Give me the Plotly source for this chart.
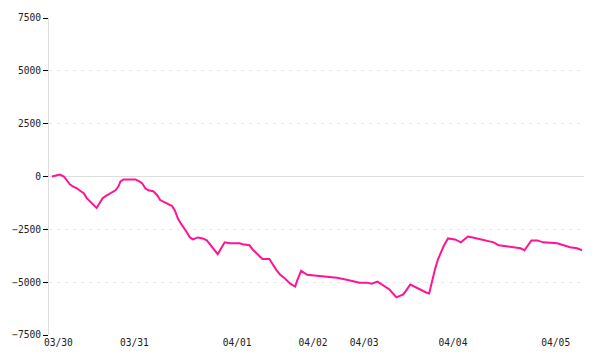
import plotly.graph_objects as go

# trading-time index (compressed axis) and cumulative value
t = [0, 6, 8, 12, 15, 18, 21, 25, 29, 32, 35, 38, 42, 45, 48, 51, 54, 57, 61, 64, 67, 69, 72,
     84, 88, 91, 94, 97, 102, 106, 109, 113, 117, 121, 124, 127, 130, 133, 136, 139, 142, 147,
     152, 156, 159, 162, 167, 171, 174, 179, 189, 192, 199, 202, 206, 210, 212, 219, 222, 226,
     230, 235, 240, 245, 247, 251, 257, 267, 277, 287, 297, 304, 310, 317, 322, 328, 333, 340,
     347, 354, 361, 367, 372, 377, 380, 383, 386, 389, 392, 395, 399, 406, 412, 419, 424, 432,
     439, 445, 450, 459, 467, 472, 476, 480, 483, 489, 495, 509, 515, 522, 529, 534]
v = [0, 93, 93, 0, -186, -372, -465, -558, -698, -791, -1023, -1163, -1302, -1488, -1256, -1023,
     -930, -837, -744, -651, -465, -233, -140, -140, -233, -326, -558, -651, -698, -884, -1116,
     -1209, -1302, -1395, -1628, -2000, -2232, -2418, -2651, -2883, -2976, -2883, -2930, -3023,
     -3209, -3348, -3674, -3348, -3116, -3162, -3162, -3209, -3255, -3441, -3627, -3813, -3906,
     -3906, -4139, -4418, -4650, -4836, -5069, -5208, -4929, -4464, -4650, -4697, -4743, -4790,
     -4883, -4976, -5022, -5022, -5069, -4976, -5115, -5348, -5720, -5580, -5115, -5255, -5394,
     -5487, -5534, -4883, -4371, -3906, -3581, -3255, -2930, -2976, -3116, -2837, -2883, -2976,
     -3069, -3116, -3255, -3302, -3348, -3395, -3488, -3209, -3023, -3023, -3116, -3162, -3255,
     -3348, -3395, -3488]

x_tick_pos = [6.5, 83, 186.5, 263, 314.5, 404, 507.5]
x_tick_text = ["03/30", "03/31", "04/01", "04/02", "04/03", "04/04", "04/05"]
y_ticks = [-7500, -5000, -2500, 0, 2500, 5000, 7500]

fig = go.Figure()
fig.add_trace(go.Scatter(x=t, y=v, mode="lines",
                         line=dict(color="#ff1493", width=2), hoverinfo="skip"))

font = dict(family="DejaVu Sans Mono", size=9.6, color="#222222")
fig.update_layout(
    width=600, height=360,
    margin=dict(l=45, r=16, t=15, b=22),
    paper_bgcolor="white", plot_bgcolor="white",
    showlegend=False,
    font=font,
    xaxis=dict(range=[-3, 536], tickmode="array", tickvals=x_tick_pos, ticktext=x_tick_text,
               showgrid=False, zeroline=False, showline=False, ticks="",
               tickfont=font),
    yaxis=dict(range=[-7500, 7500], tickmode="array", tickvals=y_ticks,
               showgrid=True, gridcolor="#e6e6e6", griddash="3px,5px", gridwidth=1,
               zeroline=True, zerolinecolor="#dddddd", zerolinewidth=1,
               showline=True, linecolor="#dddddd", linewidth=1,
               ticks="outside", ticklen=5, tickcolor="#000000", tickwidth=1,
               tickfont=font),
)
fig.write_html("out.html")
